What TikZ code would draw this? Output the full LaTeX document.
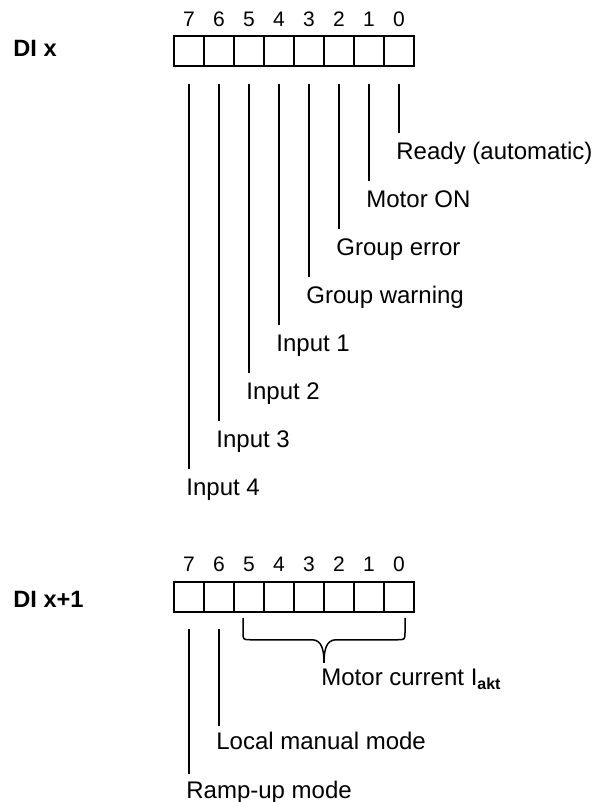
\documentclass[tikz,border=0pt]{standalone}
\usepackage{fontspec}
\setmainfont{Liberation Sans}
\usepackage{tikz}
\usetikzlibrary{calc, positioning}

\tikzset{
    bitcell/.style={draw, line width=0.75pt, minimum size=15pt, inner sep=0pt},
    bitnum/.style={font=\fontsize{10.5}{12}\selectfont, anchor=base, inner sep=0pt},
    sig/.style={font=\fontsize{12}{14}\selectfont, anchor=base west, inner sep=0pt},
    reg/.style={font=\fontsize{11.8}{13}\selectfont\bfseries, anchor=base west, inner sep=0pt},
    lead/.style={line width=0.75pt}
}

\begin{document}
\begin{tikzpicture}[x=0.5pt, y=-0.5pt]
    \useasboundingbox (0,0) rectangle (593,802);

    % 1. Thanh ghi DI x
    \node[reg] (dix) at (13,57) {DI x};
    \foreach \b in {0,...,7} {
        \node[bitcell] (top\b) at ({189+30*(7-\b)},51) {};
        \node[bitnum] (ntop\b) at ($(top\b.north)+(0,-9)$) {\b};
    }

    % 2. Các đường dẫn và nhãn của DI x
    \foreach \b/\txt in {0/Ready (automatic), 1/Motor ON, 2/Group error,
        3/Group warning, 4/Input 1, 5/Input 2, 6/Input 3, 7/Input 4} {
        \coordinate (stop\b) at ($(top\b.south)+(0,17)$);
        \coordinate (etop\b) at ($(top\b.south)+(0,{66+48*\b})$);
        \draw[lead] (stop\b) -- (etop\b);
        \node[sig] (ltop\b) at ($(etop\b)+(-3,27)$) {\txt};
    }

    % 3. Thanh ghi DI x+1
    \node[reg] (dixx) at (13,607) {DI x+1};
    \foreach \b in {0,...,7} {
        \node[bitcell] (bot\b) at ({189+30*(7-\b)},597) {};
        \node[bitnum] (nbot\b) at ($(bot\b.north)+(0,-10)$) {\b};
    }

    % 4. Bit 7 và bit 6
    \coordinate (sbot7) at ($(bot7.south)+(0,16)$);
    \coordinate (ebot7) at ($(bot7.south)+(0,161)$);
    \draw[lead] (sbot7) -- (ebot7);
    \node[sig] (lbot7) at ($(ebot7)+(-3,25)$) {Ramp-up mode};

    \coordinate (sbot6) at ($(bot6.south)+(0,16)$);
    \coordinate (ebot6) at ($(bot6.south)+(0,113)$);
    \draw[lead] (sbot6) -- (ebot6);
    \node[sig] (lbot6) at ($(ebot6)+(-3,24)$) {Local manual mode};

    % 5. Ngoặc nhọn cho bit 5 ... 0
    \coordinate (bl) at ($(bot5.south)+(-6,5)$);
    \coordinate (br) at ($(bot0.south)+(6,5)$);
    \coordinate (tip) at ($(bl)!0.5!(br)+(0,45)$);
    \draw[lead] (bl) -- ++(0,14) .. controls +(0,8) and +(-8,0) .. ($(bl)+(8,22)$)
        -- ($(tip)+(-12,-23)$) .. controls +(10,0) and +(0,-12) .. (tip)
        .. controls +(0,-12) and +(-10,0) .. ($(tip)+(12,-23)$)
        -- ($(br)+(-8,22)$) .. controls +(8,0) and +(0,8) .. ($(br)+(0,14)$) -- (br);
    \node[sig] (lcur) at ($(tip)+(-3,23)$) {Motor current I\textsubscript{\textbf{akt}}};

\end{tikzpicture}
\end{document}
